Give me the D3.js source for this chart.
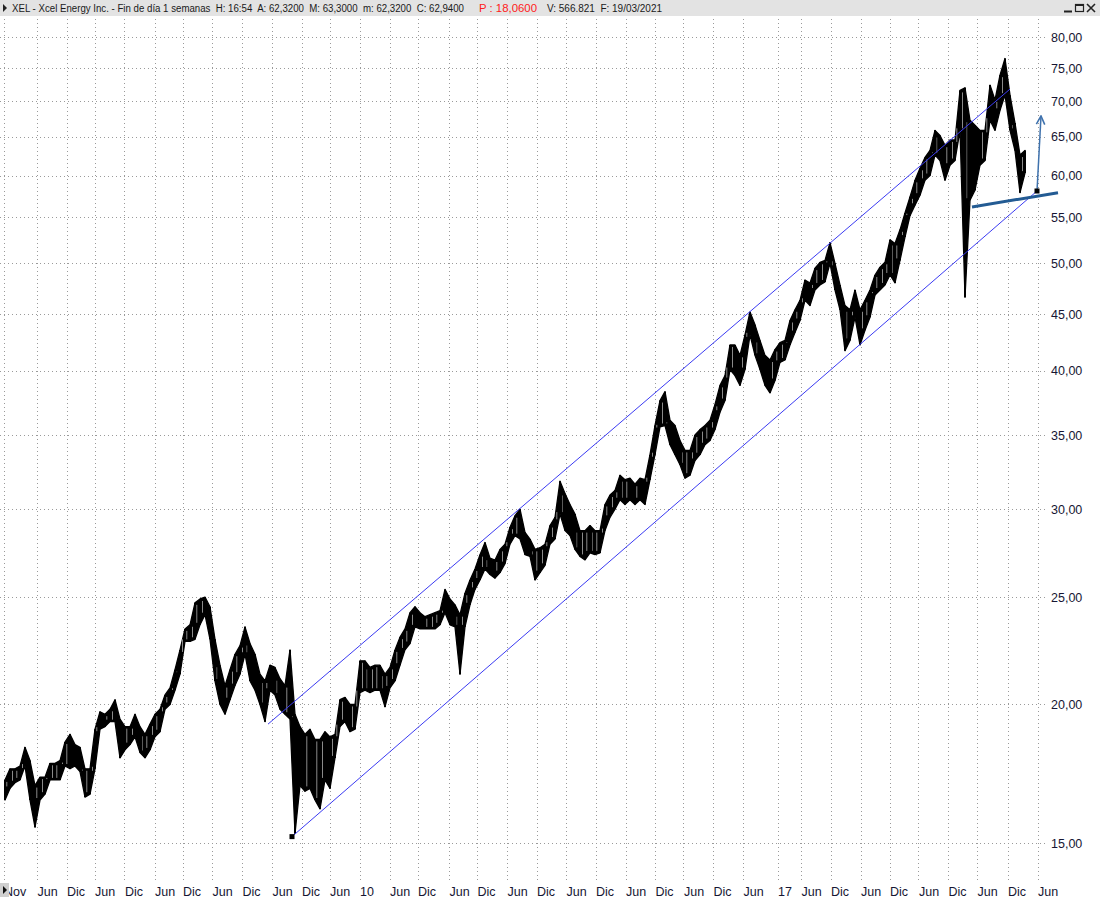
<!DOCTYPE html>
<html>
<head>
<meta charset="utf-8">
<script src="https://cdn.jsdelivr.net/npm/d3@7"></script>
<style>
  body { margin: 0; background: #fff; }
  svg { display: block; font-family: "Liberation Sans", Arial, sans-serif; }
</style>
</head>
<body>
<div id="chart"></div>
<script>
// XEL weekly chart. One entry ~ one month of weekly bars (high / low)
var barHigh = [17.1,17.5,17.5,17.6,18.3,17.8,16.9,17.2,17.2,17.7,17.7,17.8,18.5,18.8,18.4,18.3,17.5,17.5,19.0,19.7,
  19.6,19.8,20.2,19.4,19.1,19.1,19.6,19.1,18.8,19.2,19.6,19.8,20.4,20.7,21.5,22.4,23.4,23.6,24.7,24.9,
  25.0,24.5,22.9,21.7,20.8,21.5,22.2,22.6,23.5,22.7,22.2,21.3,21.0,21.7,21.6,21.1,20.8,22.4,19.6,19.1,
  18.8,19.0,18.6,18.6,18.9,18.7,18.8,20.2,20.3,20.0,20.0,21.9,21.9,21.6,21.7,21.7,21.3,21.6,22.4,23.0,
  23.4,24.2,24.5,24.2,24.0,24.1,24.2,24.3,25.4,24.9,24.6,24.1,25.2,25.9,26.5,27.3,28.0,27.1,27.0,27.6,
  27.9,28.9,29.6,30.0,28.6,28.2,27.6,27.7,27.9,29.0,29.5,31.8,31.0,30.3,29.7,28.7,28.7,29.0,28.7,28.7,
  30.3,30.9,31.2,32.2,31.9,32.0,31.6,32.0,31.9,33.6,35.7,37.6,38.3,36.1,35.7,34.6,33.9,33.9,35.0,35.4,
  35.7,36.1,37.3,38.8,39.6,42.2,42.2,41.3,43.1,45.2,44.0,42.6,41.3,40.9,41.8,42.4,42.6,44.4,45.4,46.3,
  48.3,48.0,49.5,50.1,50.3,52.2,50.0,47.8,45.8,45.4,47.3,45.4,46.3,47.3,48.8,49.6,50.1,52.5,52.1,53.6,
  55.5,57.4,59.4,60.9,62.3,63.2,65.9,65.2,63.9,64.6,64.6,71.6,72.0,67.3,66.6,65.9,65.9,72.4,70.2,73.9,
  76.5,70.9,66.9,62.6,63.2];
var barLow = [16.4,16.8,17.0,17.1,17.6,16.4,15.5,16.4,16.6,17.1,17.1,17.1,17.6,17.5,17.6,17.4,16.5,16.6,17.5,19.0,
  19.1,19.3,19.3,17.9,18.2,18.4,18.7,18.1,17.9,18.2,18.7,18.9,19.8,20.0,20.6,21.3,22.8,22.8,22.9,23.6,
  24.1,22.9,21.0,20.0,19.6,20.2,20.8,21.3,22.2,21.0,20.6,20.0,19.3,20.6,20.4,19.8,19.6,19.4,15.3,16.9,
  16.7,16.8,16.4,16.1,17.1,16.8,17.9,19.1,19.3,18.9,19.0,20.5,20.6,20.5,20.6,20.6,19.9,20.7,21.0,21.7,
  22.4,22.7,23.5,23.4,23.4,23.4,23.4,23.6,24.2,23.6,23.5,21.3,23.5,24.6,25.4,25.9,26.5,26.2,26.0,26.3,
  26.8,27.9,28.4,28.2,27.3,27.2,25.9,26.3,26.7,27.9,28.2,29.7,28.7,28.4,27.6,27.2,27.0,27.4,27.3,27.4,
  28.7,29.5,30.0,30.6,30.3,30.6,30.3,30.6,30.3,31.9,33.6,35.6,35.7,34.3,33.6,32.9,32.0,32.2,33.2,33.6,
  34.3,34.6,35.4,36.7,37.6,40.1,39.6,38.8,40.1,43.1,41.3,40.1,38.8,38.2,39.2,40.7,40.9,42.2,43.3,44.4,
  46.3,45.8,47.3,47.8,48.1,50.0,47.3,45.4,41.7,42.6,44.7,42.2,43.5,44.7,46.8,47.3,47.8,48.8,48.0,50.3,
  52.8,55.2,56.4,57.6,59.4,60.0,62.6,61.9,59.4,61.3,61.9,65.9,46.6,57.0,58.2,61.3,61.9,67.3,65.9,68.7,
  70.9,65.9,63.2,57.9,60.3];

var priceTicks = [15, 20, 25, 30, 35, 40, 45, 50, 55, 60, 65, 70, 75, 80];

var timeLabels = ["Nov","Jun","Dic","Jun","Dic","Jun","Dic","Jun","Dic","Jun","Dic","Jun","10",
  "Jun","Dic","Jun","Dic","Jun","Dic","Jun","Dic","Jun","Dic","Jun","Dic","Jun","17",
  "Jun","Dic","Jun","Dic","Jun","Dic","Jun","Dic","Jun"];
// bar position of each date grid line
var timeTickBars = [-0.3,6.4,12.3,17.9,23.9,29.9,35.5,41.4,47.4,53.4,59.3,64.9,70.9,
  76.9,82.5,88.8,94.4,100.4,106.3,112.2,118.1,124.1,130.0,135.7,141.6,147.6,154.5,
  159.2,165.1,171.1,176.9,182.7,188.6,194.4,200.5,206.5];

// drawn studies: [bar, price]
var upperChannel = [[52.6, 19.2], [201.0, 71.8]];
var lowerChannel = [[57.4, 15.2], [206.4, 58.1]];
var supportLine = [[193.4, 56.2], [210.6, 57.9]];
var targetArrow = [[206.4, 58.1], [207.2, 67.9]];

var headerMain = "XEL - Xcel Energy Inc. - Fin de día 1 semanas  H: 16:54  A: 62,3200  M: 63,3000  m: 62,3200  C: 62,9400";
var headerRed = "P : 18,0600";
var headerTail = "V: 566.821  F: 19/03/2021";

var W = 1100, H = 899;
var plotTop = 19, plotBottom = 880, axisX = 1037.5;

var svg = d3.select("#chart").append("svg")
  .attr("width", W)
  .attr("height", H);

var x = d3.scaleLinear()
  .domain([0, barHigh.length - 1])
  .range([5, 1025]);

var y = d3.scaleLog()
  .domain([15, 80])
  .range([843, 37]);

var fmt = d3.formatLocale({decimal: ",", thousands: ".", grouping: [3], currency: ["", ""]}).format(".2f");

// grid
var grid = svg.append("g");
grid.selectAll("line.h")
  .data(priceTicks)
  .enter()
  .append("line")
    .attr("class", "h")
    .attr("x1", 0)
    .attr("x2", axisX + 8)
    .attr("y1", function(d) { return Math.round(y(d)) + 0.5; })
    .attr("y2", function(d) { return Math.round(y(d)) + 0.5; });

grid.selectAll("line.v")
  .data(timeTickBars)
  .enter()
  .append("line")
    .attr("class", "v")
    .attr("x1", function(d) { return Math.round(x(d)) + 0.5; })
    .attr("x2", function(d) { return Math.round(x(d)) + 0.5; })
    .attr("y1", plotTop)
    .attr("y2", plotBottom);

grid.append("line")
  .attr("x1", Math.round(axisX) + 0.5)
  .attr("x2", Math.round(axisX) + 0.5)
  .attr("y1", plotTop)
  .attr("y2", plotBottom);

grid.selectAll("line")
  .style("stroke", "#9a9a9a")
  .style("stroke-width", "1")
  .style("stroke-dasharray", "1,3");

// price labels
svg.append("g").selectAll("text")
  .data(priceTicks)
  .enter()
  .append("text")
    .attr("x", 1051)
    .attr("y", function(d) { return y(d) + 4.5; })
    .style("font-size", "12.5px")
    .style("fill", "#161633")
    .text(function(d) { return fmt(d); });

// date labels
svg.append("g").selectAll("text")
  .data(timeTickBars)
  .enter()
  .append("text")
    .attr("x", function(d) { return x(d) + 0.5; })
    .attr("y", 896)
    .style("font-size", "12.5px")
    .style("fill", "#161633")
    .text(function(d, i) { return timeLabels[i]; });

// price band: high/low range joined bar to bar, with a wick on every bar
var band = d3.area()
  .x(function(d, i) { return x(i); })
  .y0(function(d, i) { return y(barLow[i]); })
  .y1(function(d) { return y(d); });

var bars = svg.append("g");
bars.append("path")
  .datum(barHigh)
  .attr("d", band)
  .style("fill", "#000")
  .style("stroke", "#000")
  .style("stroke-width", "1.3")
  .style("stroke-linejoin", "round");

bars.selectAll("line.w")
  .data(barHigh)
  .enter()
  .append("line")
    .attr("class", "w")
    .attr("x1", function(d, i) { return x(i); })
    .attr("x2", function(d, i) { return x(i); })
    .attr("y1", function(d) { return y(d); })
    .attr("y2", function(d, i) { return y(barLow[i]); })
    .style("stroke", "#000")
    .style("stroke-width", "2");

// lighter streaks from the hollow (up) candles
bars.selectAll("line.g")
  .data(barHigh.slice(0, -1))
  .enter()
  .append("line")
    .attr("class", "g")
    .attr("x1", function(d, i) { return x(i) + (i % 2 ? 2.5 : 1.8); })
    .attr("x2", function(d, i) { return x(i) + (i % 2 ? 2.5 : 1.8); })
    .attr("y1", function(d, i) { return y(Math.min(d, barHigh[i + 1])) + 2; })
    .attr("y2", function(d, i) { return y(Math.max(barLow[i], barLow[i + 1])) - 2; })
    .style("stroke", function(d, i) { return barHigh[i + 1] >= d ? "#8a8a8a" : (i % 3 ? "none" : "#5a5a5a"); })
    .style("stroke-width", "1");

// studies
var line = d3.line()
  .x(function(d) { return x(d[0]); })
  .y(function(d) { return y(d[1]); });

svg.append("path")
  .datum(upperChannel)
  .attr("d", line)
  .style("fill", "none")
  .style("stroke", "#3b3bf2")
  .style("stroke-width", "1");

svg.append("path")
  .datum(lowerChannel)
  .attr("d", line)
  .style("fill", "none")
  .style("stroke", "#3b3bf2")
  .style("stroke-width", "1");

svg.append("path")
  .datum(supportLine)
  .attr("d", line)
  .style("fill", "none")
  .style("stroke", "#235b93")
  .style("stroke-width", "3");

svg.append("defs").append("marker")
  .attr("id", "head")
  .attr("viewBox", "0 0 10 10")
  .attr("refX", 9)
  .attr("refY", 5)
  .attr("markerWidth", 7)
  .attr("markerHeight", 7)
  .attr("orient", "auto")
  .append("path")
    .attr("d", "M1,1 L9,5 L1,9")
    .style("fill", "none")
    .style("stroke", "#3f72ad")
    .style("stroke-width", "1.5");

svg.append("path")
  .datum(targetArrow)
  .attr("d", line)
  .attr("marker-end", "url(#head)")
  .style("fill", "none")
  .style("stroke", "#3f72ad")
  .style("stroke-width", "1.5");

svg.selectAll("rect.mark")
  .data([lowerChannel[0], lowerChannel[1]])
  .enter()
  .append("rect")
    .attr("class", "mark")
    .attr("x", function(d) { return x(d[0]) - 2.5; })
    .attr("y", function(d) { return y(d[1]) - 2.5; })
    .attr("width", 5)
    .attr("height", 5)
    .style("fill", "#000");

// header bar
var head = svg.append("g");
head.append("rect")
  .attr("x", 0).attr("y", 0)
  .attr("width", W).attr("height", 16)
  .style("fill", "#e3e3e3");

head.append("path")
  .attr("d", "M3,4 L7,8 L3,12 Z")
  .style("fill", "#222");

head.append("text")
  .attr("x", 12)
  .attr("y", 12)
  .attr("textLength", 452)
  .attr("lengthAdjust", "spacingAndGlyphs")
  .style("font-size", "10px")
  .style("white-space", "pre")
  .style("fill", "#1a1a1a")
  .text(headerMain);

head.append("text")
  .attr("x", 479)
  .attr("y", 12)
  .attr("textLength", 58)
  .attr("lengthAdjust", "spacingAndGlyphs")
  .style("font-size", "10px")
  .style("fill", "#ff2020")
  .text(headerRed);

head.append("text")
  .attr("x", 547)
  .attr("y", 12)
  .attr("textLength", 115)
  .attr("lengthAdjust", "spacingAndGlyphs")
  .style("font-size", "10px")
  .style("white-space", "pre")
  .style("fill", "#1a1a1a")
  .text(headerTail);

// window buttons
head.append("line").attr("x1", 1064).attr("x2", 1072).attr("y1", 11.5).attr("y2", 11.5)
  .style("stroke", "#222").style("stroke-width", "2");
head.append("rect").attr("x", 1075.5).attr("y", 4.5).attr("width", 8).attr("height", 7)
  .style("fill", "none").style("stroke", "#222").style("stroke-width", "1.2");
head.append("line").attr("x1", 1075.5).attr("x2", 1083.5).attr("y1", 5).attr("y2", 5)
  .style("stroke", "#222").style("stroke-width", "2");
head.append("path").attr("d", "M1087,4 L1095,12 M1095,4 L1087,12")
  .style("stroke", "#222").style("stroke-width", "1.6");

// bottom-left scroll button
svg.append("rect")
  .attr("x", 0).attr("y", 883)
  .attr("width", 9).attr("height", 14)
  .style("fill", "#cfcfcf");
svg.append("path")
  .attr("d", "M3,886 L7,890 L3,894 Z")
  .style("fill", "#111");
</script>
</body>
</html>
